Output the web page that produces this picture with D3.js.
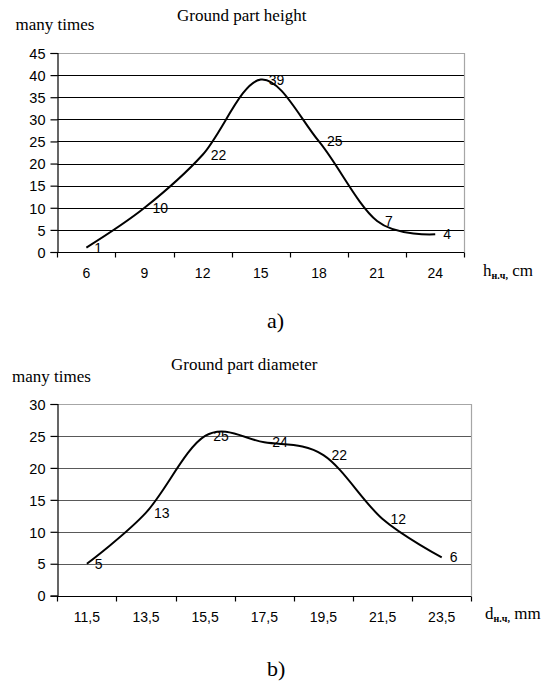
<!DOCTYPE html>
<html>
<head>
<meta charset="utf-8">
<script src="https://cdn.jsdelivr.net/npm/d3@7"></script>
<style>
  html, body { margin: 0; padding: 0; background: #fff; }
  svg { display: block; }
  .serif { font-family: "Liberation Serif", "Times New Roman", serif; fill: #000; }
  .sans { font-family: "Liberation Sans", Arial, sans-serif; fill: #000; }
</style>
</head>
<body>
<svg id="chart" width="547" height="682"></svg>
<script>
// Ground part height distribution
const heightClasses = ["6", "9", "12", "15", "18", "21", "24"];
const heightCounts = [1, 10, 22, 39, 25, 7, 4];
const heightTicks = [0, 5, 10, 15, 20, 25, 30, 35, 40, 45];

// Ground part diameter distribution
const diameterClasses = ["11,5", "13,5", "15,5", "17,5", "19,5", "21,5", "23,5"];
const diameterCounts = [5, 13, 25, 24, 22, 12, 6];
const diameterTicks = [0, 5, 10, 15, 20, 25, 30];

const svg = d3.select("#chart");

function drawPanel(opt) {
  const g = svg.append("g");

  const x = d3.scaleBand()
    .domain(opt.categories)
    .range([opt.left, opt.right])
    .paddingInner(0).paddingOuter(0);
  const y = d3.scaleLinear()
    .domain([0, d3.max(opt.ticks)])
    .range([opt.bottom, opt.top]);
  const cx = c => x(c) + x.bandwidth() / 2;

  // horizontal gridlines
  g.append("g").selectAll("line")
    .data(opt.ticks.filter(t => t > 0 && t < d3.max(opt.ticks)))
    .join("line")
    .attr("x1", opt.left).attr("x2", opt.right)
    .attr("y1", d => Math.round(y(d)) + 0.5).attr("y2", d => Math.round(y(d)) + 0.5)
    .attr("stroke", opt.gridColor).attr("stroke-width", 1.2);

  // plot frame: top and right edges
  const yt = Math.round(opt.top) + 0.5;
  g.append("path")
    .attr("d", `M${opt.left},${yt}H${Math.round(opt.right) + 0.5}V${opt.bottom}`)
    .attr("fill", "none").attr("stroke", opt.frameColor).attr("stroke-width", 1.2);

  // y axis
  const yAxis = g.append("g")
    .attr("transform", `translate(${Math.round(opt.left) + 0.5},0)`)
    .call(d3.axisLeft(y).tickValues(opt.ticks).tickSize(7).tickPadding(5));
  yAxis.select(".domain").attr("stroke", "#000").attr("stroke-width", 1.2);
  yAxis.selectAll(".tick line").attr("stroke", "#000").attr("stroke-width", 1.2);
  yAxis.selectAll(".tick text")
    .attr("class", "sans").attr("font-size", 14.5).attr("font-family", null)
    .attr("dy", "0.36em");

  // x axis: ticks sit on category boundaries, labels at category centres
  const xAxisG = g.append("g")
    .attr("transform", `translate(0,${Math.round(opt.bottom) + 0.5})`);
  xAxisG.append("line")
    .attr("x1", opt.left).attr("x2", opt.right)
    .attr("stroke", "#000").attr("stroke-width", 1.2);
  const bounds = opt.categories.map(c => x(c)).concat([opt.right]);
  xAxisG.selectAll("line.tk").data(bounds).join("line")
    .attr("class", "tk")
    .attr("x1", d => Math.round(d) + 0.5).attr("x2", d => Math.round(d) + 0.5)
    .attr("y1", 0).attr("y2", 5)
    .attr("stroke", "#000").attr("stroke-width", 1.2);
  xAxisG.selectAll("text").data(opt.categories).join("text")
    .attr("class", "sans").attr("font-size", 14)
    .attr("text-anchor", "middle")
    .attr("x", d => cx(d))
    .attr("y", opt.xLabelOffset)
    .text(d => d);

  // smoothed frequency curve
  const line = d3.line()
    .x((d, i) => cx(opt.categories[i]))
    .y(d => y(d))
    .curve(d3.curveCardinal.tension(0));

  // value labels to the right of each point
  g.append("g").selectAll("text")
    .data(opt.values)
    .join("text")
    .attr("class", "sans").attr("font-size", 14)
    .attr("fill", "#111")
    .attr("x", (d, i) => cx(opt.categories[i]) + 8)
    .attr("y", d => y(d))
    .attr("dy", "0.36em")
    .text(d => d);

  g.append("path")
    .datum(opt.values)
    .attr("d", line)
    .attr("fill", "none")
    .attr("stroke", "#000")
    .attr("stroke-width", 2)
    .attr("stroke-linejoin", "round");

  // titles
  g.append("text").attr("class", "serif").attr("font-size", 17)
    .attr("x", opt.titleX).attr("y", opt.titleY).text(opt.title);
  g.append("text").attr("class", "serif").attr("font-size", 17)
    .attr("x", opt.yTitleX).attr("y", opt.yTitleY).text("many times");

  const xt = g.append("text").attr("class", "serif").attr("font-size", 17)
    .attr("x", opt.xTitleX).attr("y", opt.xTitleY);
  xt.append("tspan").text(opt.xSymbol);
  xt.append("tspan").attr("font-size", 10).attr("font-weight", "bold").attr("dy", 3).text("н.ч,");
  xt.append("tspan").attr("dy", -3).text(" " + opt.xUnit);

  g.append("text").attr("class", "serif").attr("font-size", 22)
    .attr("x", opt.captionX).attr("y", opt.captionY).text(opt.caption);
}

drawPanel({
  categories: heightClasses, values: heightCounts, ticks: heightTicks,
  left: 57.3, right: 464.3, top: 53, bottom: 252,
  gridColor: "#000", frameColor: "#a6a6a6",
  xLabelOffset: 25,
  title: "Ground part height", titleX: 177, titleY: 21,
  yTitleX: 15.5, yTitleY: 30,
  xSymbol: "h", xUnit: "cm", xTitleX: 483, xTitleY: 276,
  caption: "a)", captionX: 267, captionY: 328
});

drawPanel({
  categories: diameterClasses, values: diameterCounts, ticks: diameterTicks,
  left: 57.3, right: 471.3, top: 404, bottom: 595.7,
  gridColor: "#595959", frameColor: "#a6a6a6",
  xLabelOffset: 25,
  title: "Ground part diameter", titleX: 171, titleY: 370,
  yTitleX: 12, yTitleY: 382,
  xSymbol: "d", xUnit: "mm", xTitleX: 485, xTitleY: 619,
  caption: "b)", captionX: 267, captionY: 676
});
</script>
</body>
</html>
